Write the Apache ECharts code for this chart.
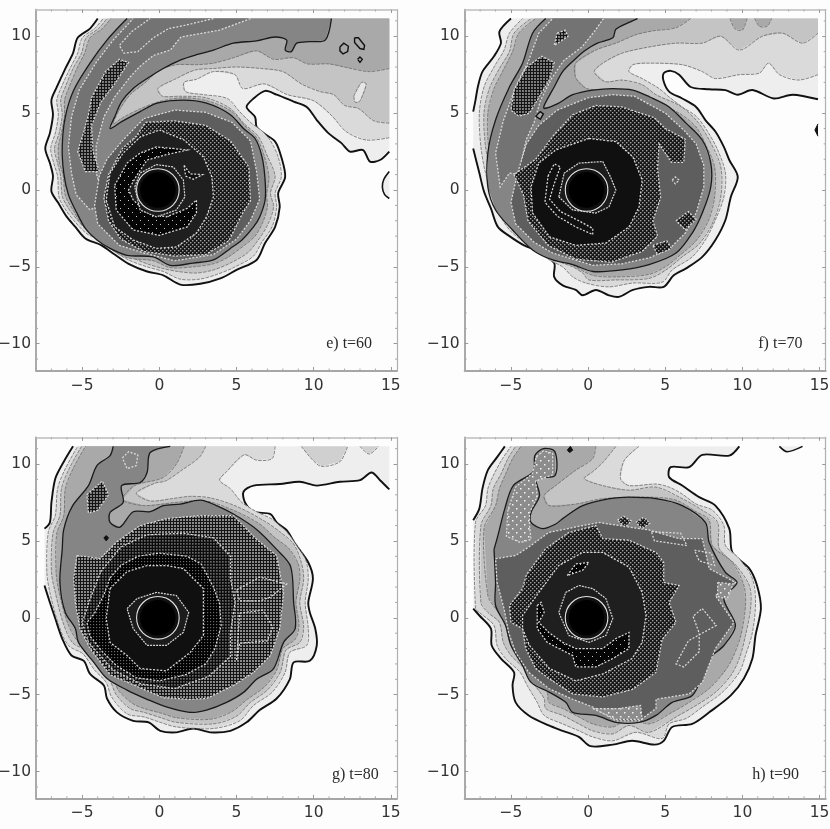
<!DOCTYPE html>
<html>
<head>
<meta charset="utf-8">
<style>
  html, body { margin: 0; padding: 0; background: #fdfdfd; }
  #chart { width: 830px; height: 829px; filter: blur(0.45px); }
</style>
<script src="https://cdn.jsdelivr.net/npm/echarts@6/dist/echarts.min.js"></script>
</head>
<body>
<div id="chart"></div>
<script>
// tick values
const majorX = [-5, 0, 5, 10, 15];
const majorY = [-10, -5, 0, 5, 10];
const minorX = [-7, -6, -4, -3, -2, -1, 1, 2, 3, 4, 6, 7, 8, 9, 11, 12, 13, 14];
const minorY = [-11, -9, -8, -7, -6, -4, -3, -2, -1, 1, 2, 3, 4, 6, 7, 8, 9, 11];

// central hole, shared by all the panels
const holeCenter = [-0.1, 0];
const holeRadius = 1.15;
const holeRing = 1.38;

// e) t=60 contours
const eOuter = [[-4,11.15],[-4.5,10.5],[-5.3,9.9],[-5.6,8.9],[-6.1,7.9],[-6.65,6.7],[-7,5.85],[-6.9,4.9],[-7.1,3.7],[-7.4,2.7],[-7.1,1.75],[-6.9,0.9],[-7,-0.1],[-6.55,-0.85],[-6,-1.75],[-5.45,-2.4],[-4.8,-3.15],[-3.75,-3.6],[-2.9,-4.2],[-2,-4.8],[-0.8,-5.3],[0.25,-5.55],[1.35,-6.15],[2.65,-6.1],[3.95,-5.75],[5,-5.2],[6.3,-4.55],[6.85,-3.45],[7.5,-2.4],[7.8,-1.1],[7.7,-0.2],[8.15,0.85],[7.9,2.15],[7.5,3.15],[6.75,3.7],[6.3,4.1],[6.2,4.75],[5.65,5.4],[6.1,5.95],[6.85,6.45],[7.6,6.2],[8.7,5.75],[9.55,5.4],[10.2,4.55],[10.95,3.7],[11.8,3.05],[12.35,2.5],[13.2,2.6],[13.65,1.85],[14.3,1.95],[14.9,2.5],[14.9,11.15]];
const eLevel1 = [[14.9,3.4],[13.4,3.25],[12.1,3.8],[11.2,4.8],[10,5.8],[8.3,6.2],[6.8,6.9],[5.4,6.6],[4.9,7.5],[3.5,7.7],[2.4,7.2],[1.6,7],[1.7,6.4],[2.9,6.2],[4.4,5.95],[5.2,5.1],[5.9,4.4],[6.7,3.8],[7.2,3.2],[7.7,2.15],[7.9,0.85],[7.5,-0.2],[7.6,-1.1],[7.3,-2.4],[6.6,-3.45],[6.1,-4.3],[4.8,-5.05],[3.7,-5.5],[2.6,-5.8],[1.35,-5.8],[0.25,-5.3],[-0.8,-5],[-2,-4.55],[-2.9,-4],[-3.75,-3.3],[-4.7,-2.85],[-5.45,-2.1],[-6,-1.4],[-6.5,-0.5],[-6.6,0.9],[-6.85,1.75],[-7.05,2.7],[-6.75,3.7],[-6.55,4.9],[-6.65,5.85],[-6.35,6.7],[-5.8,7.9],[-5.3,8.9],[-5,9.9],[-4.2,10.5],[-3.65,11.15],[14.9,11.15]];
const eLevel2 = [[14.9,4.35],[13.9,4.5],[12.9,5.3],[12,5.5],[11.3,6.2],[10.4,6.4],[9.2,6.9],[8,7.7],[6.6,7.9],[5,8],[3.5,7.9],[2.3,7.8],[1,7.2],[-0.1,6.6],[0.2,6.1],[1.3,6.1],[3,6],[4.6,5.3],[5.5,4.3],[6.4,3.5],[7,2.2],[7.5,0.9],[7.2,-0.2],[7.4,-1.1],[7,-2.3],[6.3,-3.4],[5.7,-4.1],[4.6,-4.75],[3.5,-5.2],[2.4,-5.4],[1.2,-5.3],[0.2,-5.1],[-0.8,-4.8],[-2,-4.3],[-3,-3.8],[-3.8,-3.05],[-4.7,-2.6],[-5.4,-1.85],[-5.95,-1.1],[-6.3,-0.4],[-6.4,0.9],[-6.6,1.75],[-6.8,2.7],[-6.5,3.7],[-6.3,4.9],[-6.4,5.85],[-6.1,6.7],[-5.6,7.9],[-5.05,8.9],[-4.75,9.9],[-3.95,10.5],[-3.4,11.15],[14.9,11.15]];
const eLevel3 = [[14.9,7.9],[13.6,7.7],[12.2,7.95],[11,8.2],[9.6,8.2],[8.7,8.6],[7.4,8.5],[6.3,9.05],[4.8,8.6],[3.5,8.25],[2.4,8.15],[1.1,8.15],[0,7.8],[-0.9,7],[-1.9,6.2],[-2.6,5.2],[-3,4.3],[-2.4,4.7],[-1.2,5.3],[0,5.75],[1.5,6],[3.1,5.8],[4.7,5.1],[5.6,4.1],[6.3,3.4],[6.8,2.2],[7.1,0.8],[6.95,-0.3],[7,-1.1],[6.7,-2.1],[6.2,-3],[5.5,-3.6],[4.4,-4.4],[3.5,-4.8],[2.2,-5],[0.7,-5.05],[-0.4,-4.6],[-2.1,-4.4],[-3.3,-3.75],[-4.2,-2.95],[-5,-2.3],[-5.55,-1.4],[-6.1,-0.35],[-6.25,1],[-6.5,1.8],[-6.55,2.8],[-6.35,3.7],[-6.15,4.9],[-6.15,5.85],[-5.85,6.7],[-5.35,7.9],[-4.85,8.9],[-4.5,9.9],[-3.7,10.5],[-3.15,11.15],[14.9,11.15]];
const eBlack = [[11.15,11.15],[10.75,9.75],[9.75,9.65],[8.9,9.55],[8.55,9],[8.15,9.1],[8.25,9.75],[7.5,9.95],[6.3,9.7],[4.8,9.55],[3.5,9.1],[2.4,8.8],[1.35,8.45],[0.25,7.9],[-0.8,7.25],[-1.7,6.6],[-2.45,5.75],[-2.9,4.75],[-3.2,4],[-2.45,4.45],[-1.25,5.1],[-0.15,5.65],[1.55,5.85],[3.05,5.65],[4.6,4.9],[5.45,4],[6.2,3.35],[6.65,2.15],[6.85,0.65],[6.85,-0.65],[6.5,-1.75],[6.1,-2.4],[5.35,-3.25],[4.6,-3.8],[3.5,-4.55],[2.2,-4.75],[0.7,-4.9],[-0.4,-4.35],[-2.1,-4.25],[-3.2,-3.8],[-4.05,-3.25],[-4.8,-2.5],[-5.35,-1.5],[-5.9,-0.3],[-6.2,1.1],[-6.3,2.8],[-6.1,4.75],[-5.55,6.5],[-4.5,8.25],[-3.4,9.75],[-2.1,11.15]];
const eArm = [[5.9,11.15],[3.9,10.4],[1.4,9.95],[0.7,9.1],[-0.4,8.75],[-1.3,8],[-1.9,7.35],[-2.9,6.05],[-3.6,4.75],[-4.1,2.85],[-4.1,1.1],[-3.5,-0.8],[-4.5,-1.3],[-5.4,-0.3],[-5.7,1.1],[-5.9,2.8],[-5.7,4.75],[-5.2,6.5],[-4.1,8.3],[-3,9.75],[-1.7,11.15]];
const eArmPatch = [[-4.4,6],[-3.5,7.7],[-2.6,8.5],[-2,8.3],[-2.9,6.9],[-3.8,5.7],[-4.4,4.2],[-4.3,2.5],[-3.9,1.2],[-4.8,1.2],[-5.3,2.5],[-4.9,3.8],[-4.6,4.9]];
const eArmLine = [[3.5,11.15],[1.6,10.7],[0.6,10.5],[-0.4,9.9],[-1.4,9],[-2.3,8.9],[-2.6,9.4],[-1.8,10.3],[-0.6,11.15]];
const eRingA = [[-1,4.65],[1,5.2],[3,5.05],[4.7,4.4],[5.9,3.2],[6.3,1.2],[6.5,-0.6],[5.9,-2],[5,-3.2],[3.5,-4.2],[1,-4.6],[-1,-4.1],[-2.6,-3.6],[-4,-2.2],[-4.2,-1],[-3.9,0.9],[-3.4,2],[-2.4,3.2]];
const eRingB = [[-0.9,4.4],[1,4.5],[3,4.2],[4.6,3.2],[5.8,1.5],[5.9,-0.7],[5.4,-1.5],[4.5,-3.3],[3,-4.2],[1,-4.3],[-1,-4],[-2.5,-3.2],[-3.3,-2],[-3.6,-0.5],[-3.3,1],[-2.4,2.7],[-1.5,3.5]];
const eRingC = [[0,3.9],[1.6,3.25],[2.85,2.15],[3.4,0.85],[3.5,-0.45],[3.05,-1.75],[2.4,-2.8],[1.1,-3.7],[-0.2,-3.8],[-1.7,-3.25],[-2.9,-2.4],[-3.45,-0.65],[-3.2,1.1],[-2.35,2.4],[-1.25,3.45]];
const eCrescent = [[-2.9,0.3],[-2.1,1.75],[-1.25,2.4],[-0.2,2.8],[0.9,2.7],[1.8,2.6],[0.45,2.3],[-0.8,1.95],[-1.5,0.9],[-2,0],[-1.7,-0.65],[-0.8,-1.5],[0.45,-1.75],[1.8,-1.2],[2.4,-0.65],[2.4,-1.5],[1.8,-2.4],[0,-2.95],[-1.7,-2.6],[-2.8,-1.3]];
const eSquiggle = [[1.6,1.6],[2,1.05],[2.8,1],[2.2,0.7],[1.7,0.9]];
const eInner = [[-1.6,0.2],[-1.25,1.1],[-0.2,1.65],[0.9,1.5],[1.55,0.65],[1.65,-0.45],[1.1,-1.3],[-0.2,-1.75],[-1.25,-1.3]];
const eIslandA = [[11.7,9.3],[11.95,9.55],[12.25,9.35],[12.2,9],[11.9,8.85],[11.7,9.05]];
const eIslandB = [[12.65,9.9],[12.9,9.9],[13.3,9.4],[13.25,9.15],[13,9.2],[12.65,9.6]];
const eIslandC = [[12.85,8.5],[13,8.65],[13.15,8.5],[13,8.3]];
const eLightPatch = [[12.6,6.1],[13.1,7],[13.4,6.9],[13,5.8],[12.7,5.7]];
const eArc = [[14.9,1.2],[14.55,0.7],[14.45,0.2],[14.6,-0.3],[14.9,-0.55]];

// f) t=70 contours
const fOuter = [[-5,11.15],[-5.75,10.3],[-5.65,9.55],[-6.1,8.7],[-6.85,7.7],[-7.15,6.7],[-7.3,5.85],[-7.45,5.1],[-7.45,2.7],[-7.05,1.1],[-6.75,-0.1],[-6.3,-1.2],[-5.85,-2.4],[-5.1,-3],[-4.15,-3.6],[-3.2,-4],[-2.2,-4.75],[-2.2,-5.65],[-1.65,-6.2],[-0.8,-6.5],[-0.35,-6.85],[0.5,-6.5],[1.35,-6.85],[2,-6.95],[2.9,-6.5],[3.95,-6.3],[4.9,-6.3],[5.55,-5.55],[6.35,-5.1],[7.4,-4.35],[8.25,-3.25],[8.9,-1.95],[9.25,-0.45],[9.7,0.85],[9.15,1.95],[8.8,2.8],[8.25,3.8],[7.6,4.55],[7,5.4],[6.1,5.95],[5.25,6.4],[4.9,7.05],[4.9,7.6],[5.35,7.75],[5.9,7.5],[6.65,6.7],[7.85,6.55],[8.9,6.5],[9.7,6.2],[10.65,6.5],[12.05,5.95],[13.25,6.2],[14.9,5.9],[14.9,11.15]];
const fLevel1 = [[14.9,7.5],[13.65,7.15],[12.4,7.5],[11.7,8.25],[11.1,7.6],[9.8,7.5],[8.25,7.25],[7.4,7.7],[6.1,8.15],[3.95,8.25],[2.9,8.15],[2.65,7.7],[3.5,7.25],[4.6,6.6],[5.25,6.05],[6.1,5.4],[7,4.8],[7.75,3.8],[8.4,2.6],[8.9,1.1],[8.8,-0.45],[8.25,-1.95],[7.6,-3.25],[6.75,-4.35],[5.45,-5.2],[4.8,-6],[2.9,-6.05],[1.35,-6.3],[-0.15,-6.05],[-1,-5.65],[-1.65,-5],[-2.5,-4.55],[-3.7,-3.7],[-4.9,-2.8],[-5.55,-1.95],[-6.1,-0.65],[-6.65,1.1],[-6.95,2.8],[-7.05,5],[-6.75,6.7],[-6.1,8],[-5.45,9.1],[-5.1,10.2],[-4.25,11.15],[14.9,11.15]];
const fLevel2 = [[14.9,10.2],[13.9,9.55],[12.6,10.2],[11.3,10],[9.8,9.1],[8.6,10],[7.4,9.55],[5.7,9.55],[3.95,9.3],[2.2,8.9],[0.95,8.25],[0.4,7.7],[1.1,7.05],[2.2,7.15],[3.5,6.85],[4.4,6.2],[5.9,5.5],[7,4.55],[7.85,3.25],[8.6,1.5],[8.6,-0.45],[8.05,-2.2],[7.2,-3.5],[6.1,-4.35],[5.05,-5.2],[3.95,-5.75],[1.8,-5.85],[0.05,-5.85],[-0.35,-5.4],[-1,-5],[-2.1,-4.55],[-3.5,-3.45],[-4.7,-2.6],[-5.35,-1.75],[-5.9,-0.45],[-6.3,1.1],[-6.65,2.8],[-6.75,5],[-6.4,6.6],[-5.75,7.9],[-5.1,9],[-4.8,10.2],[-3.7,11.15],[14.9,11.15]];
const fLevel3 = [[6.65,11.15],[5.7,10.55],[4.2,10.35],[3.1,10.1],[1.8,9.55],[0.5,9.1],[-0.8,8.25],[-0.8,7.3],[-0.1,6.6],[1,6.5],[3.2,6.2],[4.4,5.7],[5.9,5],[7,4.1],[7.6,3],[8.2,1.5],[8.2,-0.45],[7.8,-2],[7,-3.3],[6,-4.2],[5,-5],[3.9,-5.5],[1.8,-5.65],[0.3,-5.55],[-1,-4.9],[-2.1,-4.35],[-3.5,-3.25],[-4.7,-2.4],[-5.2,-1.6],[-5.75,-0.4],[-6.1,1.1],[-6.45,2.8],[-6.5,5],[-6.1,6.6],[-5.5,7.8],[-4.9,9],[-4.5,10.2],[-3.4,11.15]];
const fTopA = [[9.2,11.15],[9.5,10.5],[10,10.4],[10.3,11.15]];
const fTopB = [[10.8,11.15],[11.1,10.65],[11.6,10.65],[11.9,11.15]];
const fBlack = [[3.2,11.15],[2.65,10.9],[1.8,10.45],[1.6,9.9],[0.6,9.55],[-0.15,9.1],[-0.8,8.55],[-1.65,7.7],[-2.2,6.7],[-2.85,5.5],[-2.85,5.3],[-2,5.6],[-1,6.2],[0.3,6.5],[1.6,6.6],[2.9,6.5],[4,6.05],[5.25,5.4],[6.35,4.35],[7.4,3.25],[7.95,1.75],[7.95,0.2],[7.4,-1.5],[6.75,-2.8],[5.7,-4.1],[3.95,-4.85],[2.2,-5.2],[0.3,-5.3],[-1,-4.85],[-2.3,-4.55],[-3.6,-3.9],[-4.9,-2.6],[-6,-1.3],[-6.5,0.2],[-6.5,2.4],[-6,4.55],[-5.1,6.7],[-4.25,8.25],[-3.6,10.2],[-2.75,11.15]];
const fArm = [[1,11.15],[0.4,10.3],[-0.4,9.3],[-1.6,8.4],[-2.4,7.2],[-3.1,5.8],[-3.5,4.4],[-4,3.3],[-4.3,2],[-4.4,1],[-5.1,1.1],[-5.7,0.2],[-6,2.4],[-5.5,4.5],[-4.7,6.7],[-3.9,8.3],[-3.2,10.2],[-2.3,11.15]];
const fArmPatch = [[-4,8],[-3,8.7],[-2.2,8.3],[-2.5,7.2],[-3.2,6],[-3.8,5],[-4.5,4.8],[-5,5.2],[-4.8,6.5]];
const fArmPatch2 = [[-2,10.2],[-1.5,10.4],[-1.3,10],[-2.2,9.4]];
const fRingA = [[-2,5.2],[0,6],[1.6,6.2],[3,6.1],[5,5],[6.2,3.9],[7,3],[7.5,1.6],[7.5,0.2],[7,-1.5],[6.3,-2.8],[5.3,-3.8],[4,-4.4],[2.2,-4.8],[0.3,-4.9],[-1,-4.5],[-2.3,-4.1],[-3.5,-3.4],[-4.7,-2.2],[-5,-0.8],[-4.6,1],[-4,3],[-3.2,4.2]];
const fPatchRight = [[5.7,-2],[6.5,-1.4],[7,-1.9],[6.3,-2.6]];
const fPatchBottom = [[4.2,-3.6],[5.1,-3.3],[5.4,-3.8],[4.5,-4.2]];
const fSpot = [[5.45,0.65],[5.65,0.85],[5.9,0.65],[5.65,0.4]];
const fRingB = [[-3.4,2],[-2.2,3.6],[-1,4.9],[0.5,5.5],[2.2,5.4],[4.3,4.7],[5,4],[6.3,3.3],[6.2,1.8],[5.4,1.8],[4.6,3],[4.5,1.4],[4.7,-0.5],[4.2,-2],[4.5,-3],[3.5,-4],[1.5,-4.7],[-0.8,-4.5],[-2.6,-3.6],[-3.9,-2],[-4.2,-0.3],[-4.8,1]];
const fRingC = [[0.05,3.35],[1.8,3.15],[2.9,2.15],[3.5,0.65],[3.3,-1.1],[2.65,-2.4],[1.15,-3.45],[-0.8,-3.6],[-2.5,-3.05],[-3.6,-1.5],[-3.7,0.2],[-3.2,1.75],[-2.1,2.6]];
const fSquiggle = [[-2.6,0.9],[-2.2,1.7],[-1.8,1.5],[-2.2,0.4],[-2.5,-0.6],[-1.8,-1.4],[-0.6,-2],[0.3,-2.5],[0.3,-2.9],[-0.8,-2.4],[-2,-1.7],[-2.8,-0.8]];
const fInner = [[-1.9,-0.45],[-1.55,1.1],[-0.6,1.75],[0.95,1.85],[1.45,0.85],[1.8,0],[1.35,-1.1],[0.5,-1.5],[-1,-1.3]];
const fIsland = [[-3.4,4.8],[-3.1,5.1],[-2.9,4.95],[-3.1,4.6]];
const fArc = [[14.9,4.3],[14.7,3.9],[14.9,3.5]];

// g) t=80 contours
const gOuter = [[-5.6,11.15],[-6.2,10.15],[-6.75,9.05],[-7,7.5],[-7.1,6.2],[-7.45,5.8],[-7.45,2.1],[-7.1,1],[-6.75,-0.05],[-6.3,-1.35],[-5.7,-2.45],[-4.9,-2.8],[-4.5,-3.65],[-3.6,-4.4],[-3.4,-5.25],[-2.75,-6.15],[-1.7,-6.7],[-0.7,-6.8],[0.05,-7.35],[1.1,-7.45],[2.2,-7.2],[3.3,-7.45],[4.6,-7.35],[5.65,-6.8],[6.5,-6],[7.6,-5.25],[8.45,-4],[8.7,-2.9],[9.75,-2.8],[10.2,-1.8],[10.1,-0.7],[9.75,0.35],[9.65,1],[9.95,2.55],[9.65,3.6],[8.8,4.8],[8.25,5.7],[7.6,6.2],[7.2,6.75],[6.1,6.9],[5.55,7.5],[5.45,8.2],[6.1,8.6],[7.8,8.7],[9.1,8.85],[10.2,8.6],[11.7,8.85],[13,8.95],[13.75,9.45],[14.3,8.95],[14.9,8.35],[14.9,11.15]];
const gLevel1 = [[7.5,11.15],[7.3,10.35],[6.3,10.25],[5.5,10.6],[4.35,9.5],[3.9,8.95],[4.6,8.4],[5.35,7.5],[6.3,6.9],[7.4,6.35],[8.45,5.35],[9.45,3.85],[9.65,2.55],[9.45,1],[9.65,-0.7],[9.55,-1.8],[8.45,-2.25],[8.15,-3.55],[7.3,-4.85],[6.1,-5.7],[5.2,-6.7],[3.5,-7.2],[1.1,-7.1],[0.05,-6.8],[-1,-6.45],[-2.1,-6.25],[-3.1,-5.15],[-3.45,-4.2],[-4.2,-3.4],[-4.95,-2.35],[-5.9,-1.8],[-6.55,-0.4],[-7.1,1.65],[-7.3,3],[-7.2,5.6],[-6.75,6.65],[-6.6,8.4],[-6.1,9.7],[-5.3,11.15]];
const gPatchA = [[9.2,11.15],[9.9,10.3],[10.5,9.85],[11.7,10.15],[12.2,11.15]];
const gPatchB = [[13,11.15],[13.6,10.65],[14.2,11.15]];
const gLevel2 = [[3,11.15],[2.6,10.45],[1.45,9.6],[0.4,8.9],[-0.3,8.75],[-1.5,8.1],[-0.6,7.6],[0.8,7.75],[2,7.9],[3.3,7.8],[5,7.25],[6.8,6.3],[7.8,5.6],[8.7,4.8],[9.2,3.6],[9.35,2.5],[9.1,1],[9.35,-0.6],[9.1,-1.6],[8.2,-2.1],[7.85,-3.5],[7,-4.7],[5.9,-5.5],[5,-6.4],[3.5,-6.9],[1.1,-6.8],[0.1,-6.5],[-1,-6.15],[-1.9,-5.9],[-2.8,-5],[-3.2,-4.1],[-4,-3.2],[-4.75,-2.15],[-5.65,-1.6],[-6.25,-0.3],[-6.75,1.65],[-7,3],[-6.9,5.5],[-6.45,6.65],[-6.35,8.4],[-5.85,9.7],[-5.05,11.15]];
const gLevel3 = [[1.6,11.15],[1.1,10],[0.2,9.1],[-1.6,8.6],[-2.4,7.7],[-1,7.3],[1,7.5],[3,7.6],[4.9,6.95],[6.5,6.1],[7.5,5.2],[8.4,4.5],[9,3.5],[9.1,2.5],[8.85,1],[9.05,-0.5],[8.8,-1.4],[8,-2],[7.6,-3.4],[6.8,-4.5],[5.7,-5.3],[4.7,-6.1],[3.3,-6.6],[1.1,-6.5],[0.1,-6.2],[-1,-5.9],[-1.7,-5.6],[-2.6,-4.8],[-3,-4],[-3.8,-3],[-4.55,-2],[-5.4,-1.4],[-6,-0.2],[-6.5,1.65],[-6.7,3],[-6.65,5.5],[-6.2,6.65],[-6.1,8.4],[-5.6,9.7],[-4.8,11.15]];
const gBlack = [[0.7,11.15],[-0.6,10.75],[-0.8,9.45],[-1.25,8.8],[-2.45,8.6],[-2.35,7.5],[-3.2,6.85],[-3.2,6.2],[-2.55,5.9],[-1.7,6.9],[-0.6,6.9],[0.25,7.3],[1.35,7.4],[2.65,7.65],[3.7,7.3],[4.8,6.75],[6.3,5.75],[7.6,4.45],[8.5,3.35],[8.7,1],[8.8,-0.7],[8.05,-1.6],[7.4,-3.3],[6.3,-4],[5.45,-4.85],[4.35,-5.5],[3.05,-6],[1.95,-6.15],[0.45,-5.8],[-0.8,-5.3],[-2.1,-4.7],[-3.4,-3.95],[-4.25,-2.9],[-5.25,-1.6],[-5.45,-0.7],[-6.1,0.35],[-6.45,2.3],[-6.3,4.45],[-6.2,5.75],[-5.65,7.25],[-4.6,8.6],[-4.05,9.9],[-3.2,10.55],[-3,11.15]];
const gRingA = [[-5.35,4.05],[-3.85,3.85],[-2.75,4.95],[-1.25,6],[0.45,6.45],[2.65,6.65],[4.8,6.65],[6.3,5.1],[7.6,4.05],[8.05,1.65],[7.8,-0.7],[7.2,-2.45],[6.1,-3.55],[4.8,-4.4],[3.05,-5.25],[1.95,-5.3],[0.25,-5.2],[-1.25,-4.55],[-3.2,-3.7],[-4.5,-2],[-5.15,-0.7],[-5.45,1],[-5.55,2.55]];
const gArmPatch = [[-4.7,8],[-3.7,8.9],[-3.3,8],[-4,7],[-4.6,6.8]];
const gTopLoop = [[-2.4,10.4],[-2,10.8],[-1.4,10.6],[-1.5,9.9],[-2.1,9.7]];
const gRingA2 = [[-3.8,3],[-2.5,4.6],[-0.8,5.4],[1.5,5.5],[3.5,5.2],[4.6,4],[4.6,2.6],[4.9,1],[4.6,-1],[4.6,-2.5],[3.2,-3.8],[1,-4.6],[-1.2,-4.3],[-3,-3.4],[-4.6,-1.6],[-5,-0.3],[-4.5,1.2]];
const gLoopA = [[5,1.8],[6.5,2.65],[8.25,2.2],[7.2,1.35],[6.5,1.1],[5.2,1.1]];
const gLoopB = [[5.2,0.3],[6.7,0.5],[7.35,-0.6],[7,-1.5],[5.2,-1.65],[5,-2.8]];
const gRingB = [[-3.2,2.6],[-2.5,3.4],[-1.4,4],[0,4.2],[1.8,4],[2.7,3.5],[3.5,2],[3.9,0.9],[4,-0.5],[3.6,-2],[3,-3],[1.7,-3.7],[0,-4.1],[-1.5,-3.9],[-2.8,-3.1],[-3.7,-2.2],[-4.5,-1.2],[-4.7,-0.3],[-4.2,0.3],[-3.6,1.5]];
const gRingC = [[-3.2,1.9],[-2.1,3],[-0.8,3.4],[0.45,3.4],[1.55,3.2],[2.85,1.9],[2.85,0.15],[2.85,-1.15],[2,-2.25],[0.45,-3.45],[-1.25,-3.3],[-2.1,-2.45],[-3.2,-1.6],[-3.45,-0.05]];
const gInner = [[-2.1,0.6],[-1.45,1.25],[-0.2,1.65],[1.1,1.45],[1.9,0.35],[1.55,-0.95],[0.45,-1.8],[-0.8,-1.8],[-1.7,-0.7]];
const gDot = [[-3.6,5.2],[-3.45,5.35],[-3.3,5.2],[-3.45,5]];

// h) t=90 contours
const hOuter = [[-5.4,11.15],[-5.9,10.45],[-6.5,9.6],[-6.85,8.4],[-7.05,7.1],[-7.45,6.35],[-7.45,0.6],[-7.05,0.15],[-6.3,-0.7],[-6.25,-1.8],[-5.65,-2.65],[-4.8,-3.55],[-4.9,-4.4],[-4.7,-5.5],[-3.85,-6.35],[-2.55,-7],[-1.65,-7.35],[-0.6,-7.75],[0.15,-8.35],[1.6,-8.25],[2.85,-8],[4.3,-8.25],[4.9,-8],[5.45,-7.1],[6.75,-6.9],[7.85,-6.15],[9.25,-5.05],[10.1,-3.95],[10.65,-2.65],[10.85,-1.15],[11.2,0.6],[10.95,2.1],[10.45,3.2],[9.35,4.25],[9.15,5.8],[8.25,7.3],[7.2,7.85],[6.1,8.6],[5.25,9.15],[5.35,9.8],[6.55,9.8],[7.4,10.6],[9.15,10.55],[9.8,11.15]];
const hLobe = [[12.4,11.15],[12.9,10.8],[13.9,11.15]];
const hLevel1 = [[3.3,11.15],[2.35,10.25],[2.1,9.05],[2.65,8.6],[4.4,8.7],[5.25,8.5],[6.1,8.05],[7,7.4],[8.05,7],[8.8,6],[8.9,4.7],[9.8,3.85],[10.65,2.55],[10.85,1],[10.65,-0.95],[10.2,-2.45],[9.8,-3.55],[8.7,-4.85],[7.4,-5.8],[6.35,-6.55],[5.25,-6.9],[4.8,-7.85],[3.1,-7.45],[1.6,-8],[0.3,-7.75],[-0.6,-7.35],[-1.65,-6.9],[-2.85,-6.35],[-3.3,-5.5],[-3.95,-4.4],[-4.4,-3.55],[-5.35,-2.65],[-5.9,-1.8],[-6.1,-0.5],[-7.05,0.35],[-7.3,0.6],[-7.3,6.2],[-6.65,7.3],[-6.5,8.4],[-6.1,9.35],[-5.55,10.35],[-5,11.15]];
const hLevel2 = [[1.8,11.15],[0.95,10.1],[0.3,9.5],[-0.25,9.05],[0.95,8.6],[2.65,8.3],[4.4,8.5],[6.1,7.75],[7.4,7],[8.4,6.2],[8.5,4.5],[9.6,3.4],[10.45,2.1],[10.55,0.8],[10.2,-1.15],[9.8,-2.65],[9.25,-3.75],[8.25,-4.85],[7,-5.7],[5.7,-6.45],[3.95,-7.45],[2.65,-7],[1.6,-7.55],[0.3,-7.35],[-0.6,-6.9],[-1.65,-6.35],[-2.75,-5.9],[-2.85,-5.25],[-3.6,-4.2],[-4.15,-3.3],[-5,-2.45],[-5.5,-1.6],[-5.75,-0.3],[-6.5,0.35],[-6.95,1],[-6.95,6],[-6.3,7.3],[-6.15,8.4],[-5.65,9.35],[-5.2,10.35],[-4.7,11.15]];
const hLevel3 = [[0.5,11.15],[0.3,10.35],[-0.8,9.6],[-2.1,8.6],[-2.85,7.95],[-2.55,7.3],[-0.8,7.4],[0.95,7.75],[3.95,7.85],[5.7,7.65],[7,6.9],[7.85,6.35],[8.05,4.7],[9.35,3.6],[10.1,2.1],[10.2,0.8],[9.9,-1.15],[9.35,-2.65],[8.8,-3.55],[7.85,-4.6],[6.55,-5.5],[5.45,-6.15],[3.95,-6.9],[2.65,-6.55],[1.6,-7.1],[0.3,-6.9],[-0.6,-6.45],[-1.65,-5.9],[-2.55,-5.5],[-2.65,-4.85],[-3.4,-3.95],[-3.95,-3.1],[-4.7,-2.25],[-5.15,-1.35],[-5.45,-0.05],[-6,0.6],[-6.5,1.45],[-6.75,5.8],[-6,7.3],[-5.75,8.4],[-5.35,9.35],[-4.9,10.35],[-4.35,11.15]];
const hBlack = [[-6.1,4.45],[-6,2.3],[-6,0.8],[-5.35,-0.5],[-5,-1.8],[-4.25,-3.1],[-3.7,-4.2],[-2.5,-4.85],[-1.45,-5.5],[-1,-6.15],[0.5,-6.35],[1.8,-6.8],[3.3,-6.8],[4.4,-6.35],[5.45,-5.5],[6.75,-5.05],[7.4,-3.75],[7.85,-2.65],[8.8,-1.8],[9.55,-0.5],[8.8,1.25],[9.65,2.3],[8.9,2.95],[7.85,4.9],[7.6,6.2],[6.1,7.3],[4.4,7.75],[2.65,7.85],[1.4,7.75],[-0.35,7.3],[-1.65,6.45],[-2.1,6.1],[-2.95,5.8],[-3.7,6.2],[-3.7,6.85],[-3.15,7.95],[-3.35,9.05],[-2.15,9.25],[-2.15,10.8],[-2.9,11],[-3.45,10.55],[-3.55,9.5],[-4.85,8.6],[-5.4,7.1],[-5.85,5.35]];
const hArmPatch = [[-3.35,10.5],[-2.9,10.85],[-2.3,10.7],[-2.3,9.3],[-3.4,8.9],[-3.3,7.9],[-3.8,6.8],[-3.8,6],[-3.7,5.1],[-4.4,4.9],[-5.3,5.3],[-5.2,7],[-4.7,8.5],[-3.6,9.4]];
const hRingA = [[-6,3.85],[-4.7,4.05],[-3.85,4.6],[-2.55,5.55],[-0.35,6],[0.7,6.2],[4,5.7],[5.9,5.15],[7.4,5.15],[7.85,3.2],[9.55,2.3],[8.25,1.45],[9.45,-0.3],[8.25,-2],[7.4,-4.2],[6.55,-4.95],[4.4,-5.3],[4.4,-5.9],[3.3,-6.7],[1.8,-6.7],[0.3,-5.8],[-1,-5.3],[-2.55,-4.6],[-3.85,-3.55],[-4.7,-2.25],[-5.15,-0.95],[-5.45,0.6],[-5.9,2.3]];
const hPatchA = [[1.9,6.35],[2.3,6.6],[2.8,6.3],[2.4,5.9]];
const hPatchB = [[3.1,6.2],[3.6,6.55],[4,6.15],[3.5,5.8]];
const hLoopA = [[4.1,5.6],[6,5.5],[6.4,4.7],[5,4.9],[4.3,5]];
const hLoopB = [[6.9,4.4],[8,4.2],[8.2,3.4],[7.2,3.7]];
const hLoopC = [[7.4,0.6],[8.3,-0.5],[6.5,-1.5],[5.7,-3],[6.2,-3.2],[7.2,-2.2],[7.2,-1],[6.8,0.1]];
const hDotsRight = [[8.4,2.3],[9.4,2.2],[9,1.2],[8.4,1.4]];
const hDotsBottom = [[0.3,-5.9],[2,-5.9],[3.4,-5.7],[3.5,-6.6],[1.8,-6.6]];
const hRingB = [[-5,-0.3],[-5.1,0.8],[-4.25,1.9],[-4,2.8],[-2.75,4.5],[-1.25,5.55],[0.5,6],[0.95,5.15],[2.65,5.05],[4.4,4.25],[4.9,3.6],[4.9,2.3],[5.9,2.1],[5.25,1],[5.7,-0.3],[4.8,-1.4],[4.4,-3.55],[2.9,-4.65],[0.95,-5.15],[-1,-4.95],[-2.55,-3.95],[-3.4,-3.3],[-4.05,-2],[-4.25,-0.7]];
const hRingC = [[-3.2,1.65],[-1.9,3.4],[-0.35,4.25],[0.95,4.25],[2.65,3.3],[3.5,1.65],[3.75,0.15],[3.5,-1.6],[2.85,-2.65],[0.95,-3.65],[-0.8,-4.1],[-2.5,-3.3],[-3.8,-1.8],[-4.25,-0.7],[-4.25,0.15]];
const hCrescent = [[-3.3,0.8],[-3.05,1],[-2.85,0.35],[-3.2,-0.3],[-2.55,-0.95],[-1.65,-1.6],[-0.8,-2],[0.95,-2],[1.8,-1.35],[2.65,-0.95],[2.65,-2],[1.6,-2.65],[0.5,-3.2],[-0.8,-3.2],[-1,-2.45],[-1.9,-2],[-2.65,-1.6],[-3.3,-0.7]];
const hStreak = [[-1.35,2.75],[-0.8,3.5],[0.05,3.6],[-0.35,3.1]];
const hInner = [[-1.9,0.35],[-1.45,1.65],[-0.6,2.1],[0.3,1.9],[1.15,1.25],[1.6,-0.05],[1.15,-1.15],[0.05,-1.6],[-1.25,-1.15]];
const hBlob = [[-1.35,10.9],[-1.15,11.15],[-1,10.9],[-1.2,10.75]];

function makeDots(bg, fg, step, size) {
  const c = document.createElement('canvas');
  c.width = step * 2;
  c.height = step * 2;
  const g = c.getContext('2d');
  g.fillStyle = bg;
  g.fillRect(0, 0, c.width, c.height);
  g.fillStyle = fg;
  g.fillRect(0, 0, size, size);
  g.fillRect(step, step, size, size);
  return { image: c, repeat: 'repeat' };
}

// grey cells with a dark grid between them
function makeMesh(cell, line, step, size) {
  const c = document.createElement('canvas');
  c.width = step;
  c.height = step;
  const g = c.getContext('2d');
  g.fillStyle = line;
  g.fillRect(0, 0, step, step);
  g.fillStyle = cell;
  g.fillRect(0, 0, size, size);
  return { image: c, repeat: 'repeat' };
}

const dotted = { stroke: '#dcdcdc', lineWidth: 1.25, lineDash: [2, 1.6] };
const thin = { stroke: '#6a6a6a', lineWidth: 0.8, lineDash: [3.5, 1.2], smooth: 0.3 };
const styles = {
  outer: { fill: '#eeeeee', stroke: '#111', lineWidth: 1.9, smooth: 0.3 },
  level1: { fill: '#dadada', ...thin },
  level2: { fill: '#c4c4c4', ...thin },
  level3: { fill: '#a9a9a9', ...thin },
  black: { fill: '#858585', stroke: '#1a1a1a', lineWidth: 1.3, smooth: 0.3 },
  arm: { fill: '#737373', ...dotted },
  armDither: { fill: makeMesh('#7c7c7c', '#141414', 3, 2), ...dotted },
  armDots: { fill: makeDots('#8c8c8c', '#f4f4f4', 4, 1.5), ...dotted },
  mid: { fill: '#5e5e5e', ...dotted },
  midMesh: { fill: makeMesh('#8a8a8a', '#141414', 3, 2), ...dotted },
  darkMesh: { fill: makeMesh('#666666', '#0c0c0c', 3, 1.7), ...dotted },
  blackMesh: { fill: makeMesh('#6a6a6a', '#000000', 3, 1.2), ...dotted },
  dither: { fill: makeDots('#161616', '#a2a2a2', 2, 1.4), ...dotted },
  dark: { fill: '#1f1f1f', ...dotted },
  darker: { fill: '#101010', ...dotted },
  crescent: { fill: makeDots('#050505', '#c8c8c8', 4, 1), ...dotted },
  line: { fill: '#101010', ...dotted },
  loop: { fill: null, ...dotted },
  inner: { fill: '#1c1c1c', stroke: '#d8d8d8', lineWidth: 1.2, lineDash: [2, 1] },
  hollow: { fill: '#a9a9a9', stroke: '#111', lineWidth: 1.4 },
  light: { fill: '#eeeeee', stroke: '#111', lineWidth: 1.6, smooth: 0.3 },
  patch: { fill: '#d0d0d0', ...thin },
  topPatch: { fill: '#a9a9a9', ...thin },
  lightPatch: { fill: '#e6e6e6', ...thin },
  spot: { fill: '#111', stroke: '#111', lineWidth: 1 }
};

const panels = [
  { left: 36, top: 9.5, label: 'e) t=60', labelAt: [12.3, -10], layers: [
    [eOuter, 'outer'], [eLevel1, 'level1'], [eLevel2, 'level2'], [eLevel3, 'level3'], [eLightPatch, 'lightPatch'],
    [eBlack, 'black'], [eArc, 'light'], [eIslandA, 'hollow'], [eIslandB, 'hollow'], [eIslandC, 'hollow'],
    [eArm, 'arm'], [eArmLine, 'loop'], [eArmPatch, 'armDither'], [eRingA, 'mid'], [eRingB, 'dither'], [eRingC, 'dark'],
    [eCrescent, 'crescent'], [eSquiggle, 'line'], [eInner, 'inner']
  ] },
  { left: 464.7, top: 9.5, label: 'f) t=70', labelAt: [12.46, -10], layers: [
    [fOuter, 'outer'], [fLevel1, 'level1'], [fLevel2, 'level2'], [fLevel3, 'level3'], [fTopA, 'topPatch'], [fTopB, 'topPatch'],
    [fBlack, 'black'], [fArc, 'spot'], [fArm, 'arm'], [fIsland, 'hollow'], [fArmPatch, 'armDither'], [fArmPatch2, 'armDither'],
    [fRingA, 'mid'], [fPatchRight, 'dither'], [fPatchBottom, 'dither'], [fSpot, 'loop'], [fRingB, 'dither'], [fRingC, 'darker'], [fSquiggle, 'line'], [fInner, 'inner']
  ] },
  { left: 36, top: 437.3, label: 'g) t=80', labelAt: [12.7, -10.2], layers: [
    [gOuter, 'outer'], [gLevel1, 'level1'], [gPatchA, 'patch'], [gPatchB, 'patch'], [gLevel2, 'level2'], [gLevel3, 'level3'],
    [gBlack, 'black'], [gDot, 'spot'], [gTopLoop, 'loop'], [gArmPatch, 'armDither'], [gRingA, 'midMesh'], [gLoopA, 'loop'], [gLoopB, 'loop'],
    [gRingA2, 'darkMesh'], [gRingB, 'blackMesh'], [gRingC, 'darker'], [gInner, 'inner']
  ] },
  { left: 464.7, top: 437.3, label: 'h) t=90', labelAt: [12.16, -10.2], layers: [
    [hOuter, 'outer'], [hLobe, 'light'], [hLevel1, 'level1'], [hLevel2, 'level2'], [hLevel3, 'level3'],
    [hBlack, 'black'], [hBlob, 'spot'], [hArmPatch, 'armDots'], [hRingA, 'mid'], [hLoopA, 'loop'], [hLoopB, 'loop'], [hLoopC, 'loop'],
    [hDotsRight, 'armDots'], [hDotsBottom, 'armDots'], [hPatchA, 'dither'], [hPatchB, 'dither'], [hRingB, 'dither'], [hRingC, 'dark'],
    [hCrescent, 'crescent'], [hStreak, 'crescent'], [hInner, 'inner']
  ] }
];

const xMin = -8, xMax = 15.4, yMin = -11.74, yMax = 11.74;
const frameSize = 361;

// contour segments running along the edge of the sampled area are not drawn
function onEdge(p) {
  return p[0] >= 14.85 || p[1] >= 11.1 || p[0] <= -7.4;
}

function contourPieces(points, api) {
  const closed = points.concat([points[0]]);
  const pieces = [];
  let run = [];
  for (let i = 0; i < closed.length; i++) {
    if (i > 0 && onEdge(closed[i]) && onEdge(closed[i - 1])) {
      if (run.length > 1) pieces.push(run);
      run = [];
    }
    run.push(api.coord(closed[i]));
  }
  if (run.length > 1) pieces.push(run);
  return pieces;
}

function renderLayer(layers) {
  return function (params, api) {
    if (params.dataIndex === layers.length) {
      const c = api.coord(holeCenter);
      const unit = api.size([1, 0])[0];
      return { type: 'group', children: [
        { type: 'circle', shape: { cx: c[0], cy: c[1], r: holeRing * unit }, style: { fill: '#111', stroke: '#e4e4e4', lineWidth: 1.1 } },
        { type: 'circle', shape: { cx: c[0], cy: c[1], r: holeRadius * unit }, style: { fill: '#000' } }
      ] };
    }
    const points = layers[params.dataIndex][0];
    const st = styles[layers[params.dataIndex][1]];
    const children = [];
    if (st.fill) {
      children.push({
        type: 'polygon',
        shape: { points: points.map(p => api.coord(p)) },
        style: { fill: st.fill, stroke: null }
      });
    }
    contourPieces(points, api).forEach(run => {
      children.push({
        type: 'polyline',
        shape: { points: run, smooth: st.smooth || 0 },
        style: { fill: null, stroke: st.stroke, lineWidth: st.lineWidth, lineDash: st.lineDash || null }
      });
    });
    return { type: 'group', children: children };
  };
}

function renderMinorTick(params, api) {
  const v = api.value(0);
  const isX = api.value(1) === 0;
  const a = isX ? api.coord([v, yMin]) : api.coord([xMin, v]);
  const b = isX ? api.coord([v, yMax]) : api.coord([xMax, v]);
  const tick = (p, dx, dy) => ({
    type: 'line',
    shape: { x1: p[0], y1: p[1], x2: p[0] + dx, y2: p[1] + dy },
    style: { stroke: '#a8a8a8', lineWidth: 1 }
  });
  return { type: 'group', children: isX ? [tick(a, 0, -2), tick(b, 0, 2)] : [tick(a, 2, 0), tick(b, -2, 0)] };
}

const minusLabel = v => String(v).replace('-', '\u2212');
const labelFont = { fontFamily: 'DejaVu Sans', fontSize: 15.5, color: '#333' };

const grid = [], xAxis = [], yAxis = [], series = [];
panels.forEach((panel, k) => {
  grid.push({ left: panel.left, top: panel.top, width: frameSize, height: frameSize, show: false, outerBoundsMode: 'none' });
  const xi = xAxis.length, yi = yAxis.length;
  const lineOf = (color, width) => ({ show: true, onZero: false, lineStyle: { color: color, width: width } });
  xAxis.push({
    type: 'value', gridIndex: k, min: xMin, max: xMax, position: 'bottom', splitLine: { show: false },
    axisLine: lineOf('#a6a6a6', 2),
    axisTick: { show: true, inside: true, length: 3.5, customValues: majorX, lineStyle: { color: '#999' } },
    axisLabel: { ...labelFont, margin: 7, customValues: majorX, formatter: minusLabel, hideOverlap: false, showMinLabel: true, showMaxLabel: true }
  }, {
    type: 'value', gridIndex: k, min: xMin, max: xMax, position: 'top', splitLine: { show: false },
    axisLine: lineOf('#bdbdbd', 1.5),
    axisTick: { show: true, inside: true, length: 3.5, customValues: majorX, lineStyle: { color: '#999' } },
    axisLabel: { show: false }
  });
  yAxis.push({
    type: 'value', gridIndex: k, min: yMin, max: yMax, position: 'left', splitLine: { show: false },
    axisLine: lineOf('#8e8e8e', 1.5),
    axisTick: { show: true, inside: true, length: 3.5, customValues: majorY, lineStyle: { color: '#999' } },
    axisLabel: { ...labelFont, margin: 5, customValues: majorY, formatter: minusLabel, hideOverlap: false }
  }, {
    type: 'value', gridIndex: k, min: yMin, max: yMax, position: 'right', splitLine: { show: false },
    axisLine: lineOf('#b0b0b0', 1.2),
    axisTick: { show: true, inside: true, length: 3.5, customValues: majorY, lineStyle: { color: '#999' } },
    axisLabel: { show: false }
  });
  series.push({
    type: 'custom', xAxisIndex: xi, yAxisIndex: yi, clip: false, silent: true,
    renderItem: renderLayer(panel.layers),
    data: panel.layers.map((l, i) => [i]).concat([[panel.layers.length]]),
    encode: { x: -1, y: -1 }
  }, {
    type: 'custom', xAxisIndex: xi, yAxisIndex: yi, silent: true,
    renderItem: renderMinorTick,
    data: minorX.map(v => [v, 0]).concat(minorY.map(v => [v, 1])),
    encode: { x: -1, y: -1 }
  }, {
    type: 'custom', xAxisIndex: xi, yAxisIndex: yi, silent: true,
    renderItem: (params, api) => {
      const p = api.coord(panel.labelAt);
      return { type: 'text', x: p[0], y: p[1], style: {
        text: panel.label, fill: '#2a2a2a', font: '16px "Liberation Serif"', textAlign: 'center', textVerticalAlign: 'middle'
      } };
    },
    data: [[0]],
    encode: { x: -1, y: -1 }
  });
});

const chart = echarts.init(document.getElementById('chart'), null, { renderer: 'canvas' });
chart.setOption({
  backgroundColor: '#fdfdfd',
  animation: false,
  tooltip: { show: false },
  grid: grid,
  xAxis: xAxis,
  yAxis: yAxis,
  series: series
});
</script>
</body>
</html>
